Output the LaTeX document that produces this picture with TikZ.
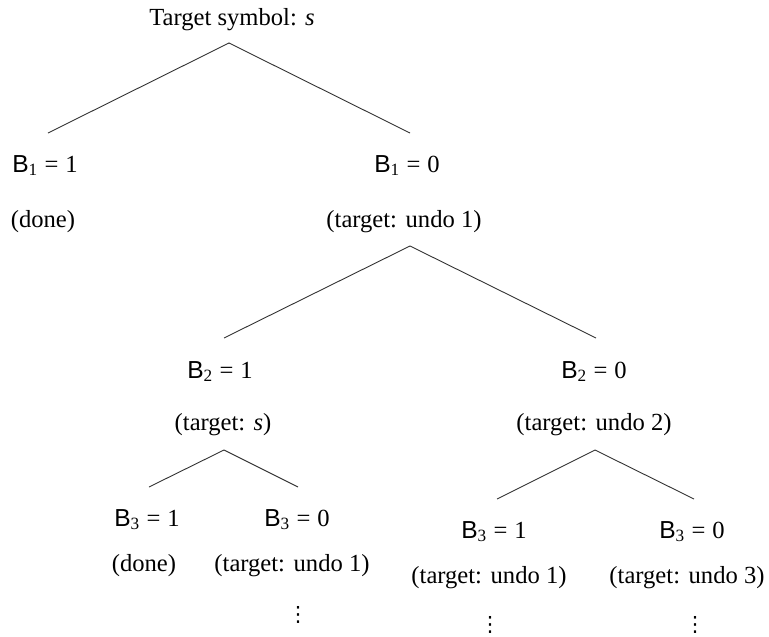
\documentclass[tikz,border=0pt]{standalone}
\usepackage{fontspec}
\setmainfont{Liberation Serif}
\setsansfont{Liberation Sans}
\newfontfamily\symfont{DejaVu Sans}

% bit variable with its value, e.g. B_1 = 0
\newcommand{\bvar}[2]{\textsf{B}\textsubscript{#1}\hspace{0.28em}=\hspace{0.28em}#2}
% target text with the wide gap after the colon
\newcommand{\tgt}[1]{(target:\hspace{0.35em}#1)}
% vertical ellipsis
\newcommand{\vell}{{\symfont\fontsize{21}{21}\selectfont ⋮}}

\begin{document}
\begin{tikzpicture}[x=1pt, y=-1pt,
  every node/.style={font=\fontsize{24.6}{28}\selectfont, inner sep=0pt, anchor=base},
  dotsnode/.style={anchor=center},
  branch/.style={line width=0.9pt, black!80}]
\useasboundingbox (0,0) rectangle (769,637);

% root
\node (title) at (232,25) {Target symbol: \textit{s}};
\coordinate (r0)  at (229,43);
\coordinate (r0l) at (48,133);
\coordinate (r0r) at (410,133);
\draw[branch] (r0l) -- (r0) -- (r0r);

% first level
\node (b1one)  at (45,172)  {\bvar{1}{1}};
\node (done1)  at (43,227)  {(done)};
\node (b1zero) at (407,172) {\bvar{1}{0}};
\node (tgt1)   at (404,227) {\tgt{undo 1}};

\coordinate (r1)  at (410,246);
\coordinate (r1l) at (224,338);
\coordinate (r1r) at (596,338);
\draw[branch] (r1l) -- (r1) -- (r1r);

% second level
\node (b2one)  at (220,378) {\bvar{2}{1}};
\node (tgts)   at (223,430) {(target: \textit{s})};
\node (b2zero) at (594,378) {\bvar{2}{0}};
\node (tgt2)   at (594,430) {\tgt{undo 2}};

\coordinate (r2a)  at (224,450);
\coordinate (r2al) at (149,487);
\coordinate (r2ar) at (298,487);
\draw[branch] (r2al) -- (r2a) -- (r2ar);

\coordinate (r2b)  at (595,450);
\coordinate (r2bl) at (497,499);
\coordinate (r2br) at (694,499);
\draw[branch] (r2bl) -- (r2b) -- (r2br);

% third level, left subtree
\node (b3a)   at (147,526) {\bvar{3}{1}};
\node (done3) at (144,571) {(done)};
\node (b3b)   at (297,526) {\bvar{3}{0}};
\node (tgt3b) at (292,571) {\tgt{undo 1}};
\node[dotsnode] (dotsb) at (298,615) {\vell};

% third level, right subtree
\node (b3c)   at (494,538) {\bvar{3}{1}};
\node (tgt3c) at (489,583) {\tgt{undo 1}};
\node[dotsnode] (dotsc) at (490,625) {\vell};
\node (b3d)   at (692,538) {\bvar{3}{0}};
\node (tgt3d) at (687,583) {\tgt{undo 3}};
\node[dotsnode] (dotsd) at (695,625) {\vell};
\end{tikzpicture}
\end{document}
